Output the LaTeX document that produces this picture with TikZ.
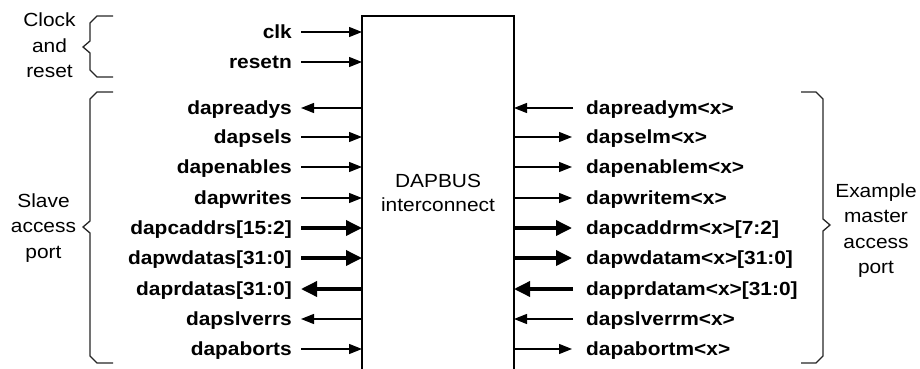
\documentclass[tikz,border=0pt]{standalone}
\usepackage{fontspec}
\setmainfont{Liberation Sans}[FakeStretch=1.1]
\usetikzlibrary{arrows.meta}
\newcommand\labfont{\fontsize{19}{25.5}\selectfont}
\newcommand\stack[1]{\begin{tabular}[t]{@{}c@{}}#1\end{tabular}}
\tikzset{
  sig/.style={line width=1.3pt, -{Triangle[length=13pt,width=10pt]}},
  bus/.style={line width=3.5pt, -{Triangle[length=16pt,width=15pt]}},
  pin/.style={font=\labfont\bfseries, inner sep=0pt, text height=13.6pt, text depth=0pt},
  pinl/.style={pin, anchor=east},
  pinr/.style={pin, anchor=west},
  group/.style={font=\labfont, inner sep=0pt, anchor=base},
  brace/.style={line width=1.3pt, black!85, line join=miter},
}
\begin{document}
\begin{tikzpicture}[x=1pt, y=-1pt]
\path[use as bounding box] (0,0) rectangle (920,369);
\clip (0,0) rectangle (920,369);

% interconnect block (open at the bottom)
\node[draw, line width=1.2pt, minimum width=152pt, minimum height=420pt,
      anchor=north west, inner sep=0pt, outer sep=0pt] (box) at (362,16) {};
\node[font=\fontsize{19}{24.4}\selectfont, inner sep=0pt, anchor=base] (title) at (438,187.3)
  {\stack{DAPBUS\\interconnect}};

% slave side signals
\node[pinl] (clk)     at (292,32)  {clk};
\node[pinl] (resetn)  at (292,62)  {resetn};
\node[pinl] (readys)  at (292,108) {dapreadys};
\node[pinl] (sels)    at (292,137) {dapsels};
\node[pinl] (enables) at (292,167) {dapenables};
\node[pinl] (writes)  at (292,198) {dapwrites};
\node[pinl] (caddrs)  at (292,228) {dapcaddrs[15:2]};
\node[pinl] (wdatas)  at (292,258) {dapwdatas[31:0]};
\node[pinl] (rdatas)  at (292,289) {daprdatas[31:0]};
\node[pinl] (slverrs) at (292,319) {dapslverrs};
\node[pinl] (aborts)  at (292,349) {dapaborts};

\draw[sig] ([xshift=9pt]clk.east)     -- (clk.east -| box.west);
\draw[sig] ([xshift=9pt]resetn.east)  -- (resetn.east -| box.west);
\draw[sig] (readys.east -| box.west)  -- ([xshift=9pt]readys.east);
\draw[sig] ([xshift=9pt]sels.east)    -- (sels.east -| box.west);
\draw[sig] ([xshift=9pt]enables.east) -- (enables.east -| box.west);
\draw[sig] ([xshift=9pt]writes.east)  -- (writes.east -| box.west);
\draw[bus] ([xshift=9pt]caddrs.east)  -- (caddrs.east -| box.west);
\draw[bus] ([xshift=9pt]wdatas.east)  -- (wdatas.east -| box.west);
\draw[bus] (rdatas.east -| box.west)  -- ([xshift=9pt]rdatas.east);
\draw[sig] (slverrs.east -| box.west) -- ([xshift=9pt]slverrs.east);
\draw[sig] ([xshift=9pt]aborts.east)  -- (aborts.east -| box.west);

% master side signals
\node[pinr] (readym)  at (586,108) {dapreadym<x>};
\node[pinr] (selm)    at (586,137) {dapselm<x>};
\node[pinr] (enablem) at (586,167) {dapenablem<x>};
\node[pinr] (writem)  at (586,198) {dapwritem<x>};
\node[pinr] (caddrm)  at (586,228) {dapcaddrm<x>[7:2]};
\node[pinr] (wdatam)  at (586,258) {dapwdatam<x>[31:0]};
\node[pinr] (rdatam)  at (586,289) {dapprdatam<x>[31:0]};
\node[pinr] (slverrm) at (586,319) {dapslverrm<x>};
\node[pinr] (abortm)  at (586,349) {dapabortm<x>};

\draw[sig] ([xshift=-13pt]readym.west)  -- (readym.west -| box.east);
\draw[sig] (selm.west -| box.east)      -- ([xshift=-14pt]selm.west);
\draw[sig] (enablem.west -| box.east)   -- ([xshift=-14pt]enablem.west);
\draw[sig] (writem.west -| box.east)    -- ([xshift=-14pt]writem.west);
\draw[bus] (caddrm.west -| box.east)    -- ([xshift=-14pt]caddrm.west);
\draw[bus] (wdatam.west -| box.east)    -- ([xshift=-14pt]wdatam.west);
\draw[bus] ([xshift=-13pt]rdatam.west)  -- (rdatam.west -| box.east);
\draw[sig] ([xshift=-13pt]slverrm.west) -- (slverrm.west -| box.east);
\draw[sig] (abortm.west -| box.east)    -- ([xshift=-14pt]abortm.west);

% grouping braces
\draw[brace] (113,16) -- (97,16) -- (90,23) -- (90,41) -- (83,47) -- (90,53)
  -- (90,70) -- (97,77) -- (113,77);
\draw[brace] (113,92) -- (97,92) -- (90,99) -- (90,221) -- (83,227) -- (90,233)
  -- (90,356) -- (97,363) -- (113,363);
\draw[brace] (801,92) -- (816,92) -- (823,99) -- (823,219) -- (830,225) -- (823,231)
  -- (823,356) -- (816,363) -- (801,363);

\node[group] (clockgrp)  at (49.5,27)  {\stack{Clock\\and\\reset}};
\node[group] (slavegrp)  at (43.5,207) {\stack{Slave\\access\\port}};
\node[group] (mastergrp) at (876,197)  {\stack{Example\\master\\access\\port}};
\end{tikzpicture}
\end{document}
